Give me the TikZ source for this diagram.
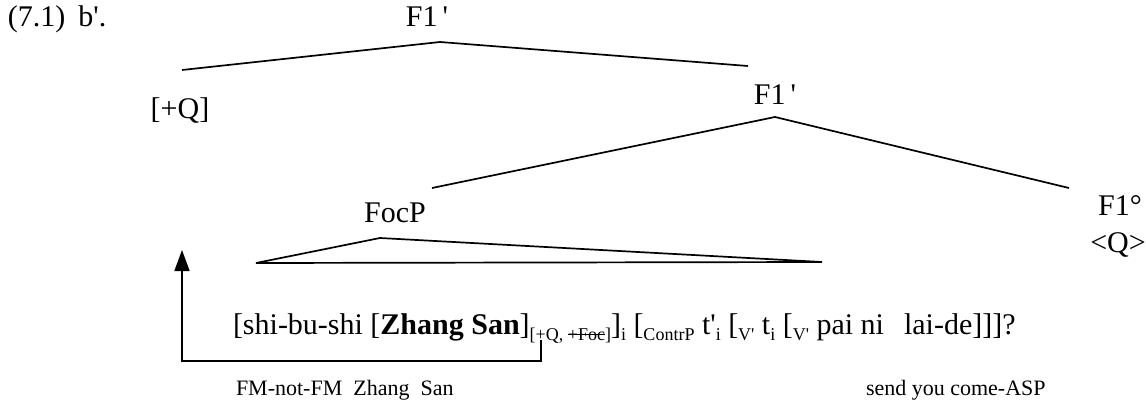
\documentclass[tikz,border=0pt]{standalone}
\usepackage{fontspec}
\setmainfont{Liberation Serif}
\usetikzlibrary{arrows.meta}
\newcommand\strikeit[1]{\setbox0\hbox{#1}\rlap{\rule[0.27em]{\wd0}{0.07em}}\box0}
\newcommand\pr{\textquotesingle}
\begin{document}
\begin{tikzpicture}[x=1pt,y=-1pt,
  lbl/.style={inner sep=0pt,outer sep=0pt,anchor=base,font=\fontsize{30}{36}\selectfont},
  mt/.style={inner sep=0pt,outer sep=0pt,anchor=base west,font=\fontsize{30}{36}\selectfont},
  st/.style={inner sep=0pt,outer sep=0pt,anchor=base west,font=\fontsize{18}{22}\selectfont},
  gl/.style={inner sep=0pt,outer sep=0pt,anchor=base west,font=\fontsize{22}{26}\selectfont},
  branch/.style={line width=1.7pt},
  mover/.style={line width=1.7pt,-{Triangle[length=21pt,width=15pt]}}]
\useasboundingbox (0,0) rectangle (1146,404);
% labels
\node[mt] (ex) at (8,27) {(7.1)\hspace{13pt}b\pr.};
\node[lbl] (top) at (427,27) {F1\,\pr};
\node[lbl] (q) at (180,118) {[+Q]};
\node[lbl] (f1) at (775,104) {F1\,\pr};
\node[lbl] (focp) at (395,222) {FocP};
\node[lbl] (head) at (1120,215) {F1°};
\node[lbl] (qq) at (1118,252) {\textless Q\textgreater};
% branch ends
\coordinate (topapex) at (440,42);
\coordinate (qend) at (182,70);
\coordinate (f1end) at (748,66);
\coordinate (f1apex) at (775,117);
\coordinate (focend) at (432,188);
\coordinate (headend) at (1069,188);
\draw[branch] (qend) -- (topapex) -- (f1end);
\draw[branch] (focend) -- (f1apex) -- (headend);
% triangle
\coordinate (tl) at (256,263);
\coordinate (tt) at (380,238);
\coordinate (tr) at (822,262);
\draw[branch,line join=miter] (tl) -- (tt) -- (tr) -- cycle;
% sentence
\node[mt] (s1) at (233,334) {[shi-bu-shi [\textbf{Zhang San}]};
\node[st,yshift=-6pt] (s1a) at (s1.base east) {[};
\node[st] (pq) at (s1a.base east) {+};
\node[st] (s1c) at (pq.base east) {Q, \strikeit{+Foc}]};
\node[mt,yshift=6pt] (m2) at (s1c.base east) {]};
\node[st,yshift=-6pt] (s2) at (m2.base east) {i};
\node[mt,yshift=6pt] (m3) at (s2.base east) {~[};
\node[st,yshift=-6pt] (s3) at (m3.base east) {ContrP};
\node[mt,yshift=6pt] (m4) at (s3.base east) {~t\pr};
\node[st,yshift=-6pt] (s4) at (m4.base east) {i};
\node[mt,yshift=6pt] (m5) at (s4.base east) {~[};
\node[st,yshift=-6pt] (s5) at (m5.base east) {V\pr};
\node[mt,yshift=6pt] (m6) at (s5.base east) {~t};
\node[st,yshift=-6pt] (s6) at (m6.base east) {i};
\node[mt,yshift=6pt] (m7) at (s6.base east) {~[};
\node[st,yshift=-6pt] (s7) at (m7.base east) {V\pr};
\node[mt,yshift=6pt] (m8) at (s7.base east) {~pai ni\hspace{20pt}lai-de]]]?};
% glosses
\node[gl] (g1) at (236,395) {FM-not-FM\hspace{11pt}Zhang\hspace{11pt}San};
\node[gl] (g2) at (866,395) {send you come-ASP};
% movement arrow
\coordinate (tip) at (182,250);
\coordinate (pqfoot) at (pq.south |- 0,340);
\draw[mover] (pqfoot) -- (pq.south |- 0,361) -| (tip);
\end{tikzpicture}
\end{document}
